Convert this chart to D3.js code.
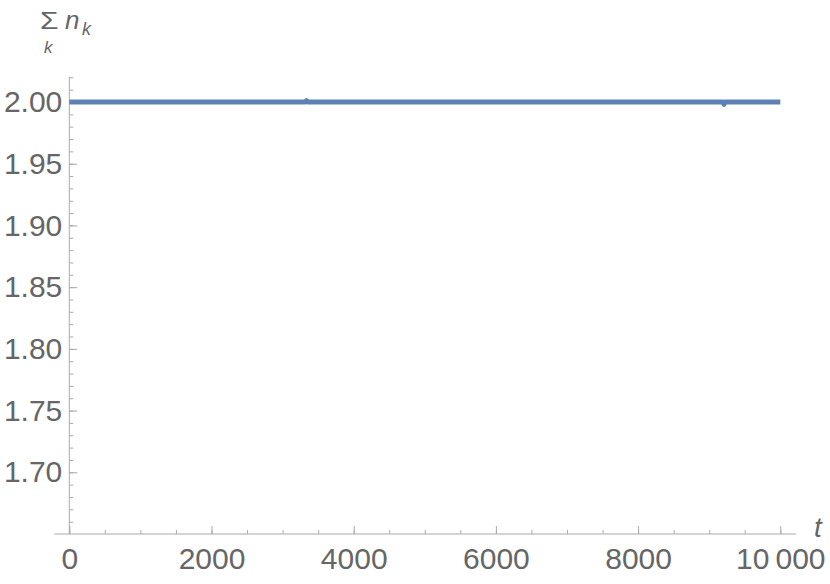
<!DOCTYPE html>
<html>
<head>
<meta charset="utf-8">
<script src="https://cdn.jsdelivr.net/npm/d3@7"></script>
<style>
  body { margin: 0; background: #fff; }
  svg { display: block; }
  text { font-family: "Liberation Sans", Arial, sans-serif; }
</style>
</head>
<body>
<svg id="chart" width="830" height="584"></svg>
<script>
// ---- data ----
const tValues = [0, 250, 500, 750, 1000, 1250, 1500, 1750, 2000, 2250, 2500, 2750, 3000, 3250,
  3320, 3336, 3352, 3500, 3750, 4000, 4250, 4500, 4750, 5000, 5250, 5500, 5750, 6000, 6250,
  6500, 6750, 7000, 7250, 7500, 7750, 8000, 8250, 8500, 8750, 9000, 9190, 9208, 9226, 9250,
  9500, 9750, 10000];
const nSumValues = [2.000, 2.000, 2.000, 2.000, 2.000, 2.000, 2.000, 2.000, 2.000, 2.000, 2.000,
  2.000, 2.000, 2.000, 2.000, 2.001, 2.000, 2.000, 2.000, 2.000, 2.000, 2.000, 2.000, 2.000,
  2.000, 2.000, 2.000, 2.000, 2.000, 2.000, 2.000, 2.000, 2.000, 2.000, 2.000, 2.000, 2.000,
  2.000, 2.000, 2.000, 2.000, 1.998, 2.000, 2.000, 2.000, 2.000, 2.000];
const xMajorTicks = [0, 2000, 4000, 6000, 8000, 10000];
const xTickLabels = ["0", "2000", "4000", "6000", "8000", "10\u2009000"];
const xMinorTicks = [0, 500, 1000, 1500, 2000, 2500, 3000, 3500, 4000, 4500, 5000, 5500, 6000,
  6500, 7000, 7500, 8000, 8500, 9000, 9500, 10000];
const yMajorTicks = [1.70, 1.75, 1.80, 1.85, 1.90, 1.95, 2.00];
const yTickLabels = ["1.70", "1.75", "1.80", "1.85", "1.90", "1.95", "2.00"];
const yMinorTicks = [1.66,1.67,1.68,1.69,1.70,1.71,1.72,1.73,1.74,1.75,1.76,1.77,1.78,1.79,1.80,
  1.81,1.82,1.83,1.84,1.85,1.86,1.87,1.88,1.89,1.90,1.91,1.92,1.93,1.94,1.95,1.96,1.97,1.98,1.99,2.00,2.01,2.02];

// ---- layout ----
const svg = d3.select("#chart");
const x = d3.scaleLinear().domain([0, 10000]).range([69.3, 780.3]);
const y = d3.scaleLinear().domain([1.65, 2.00]).range([534, 102]);
const axisColor = "#aaaaaa";
const labelColor = "#666666";

// axis lines
svg.append("line")
  .attr("x1", x(-211)).attr("x2", x(10218))
  .attr("y1", y(1.65)).attr("y2", y(1.65))
  .attr("stroke", axisColor).attr("stroke-width", 1);
svg.append("line")
  .attr("x1", x(0)).attr("x2", x(0))
  .attr("y1", y(1.65)).attr("y2", y(2.0205))
  .attr("stroke", axisColor).attr("stroke-width", 1);

// x axis ticks
const gx = svg.append("g").attr("transform", `translate(0,${y(1.65)})`);
gx.append("g").call(d3.axisBottom(x).tickValues(xMinorTicks).tickSizeInner(-4).tickSizeOuter(0).tickFormat(""));
gx.append("g").call(d3.axisBottom(x).tickValues(xMajorTicks).tickSizeInner(-8).tickSizeOuter(0).tickPadding(14)
  .tickFormat((d, i) => xTickLabels[i]));
gx.selectAll(".domain").remove();
gx.selectAll("line").attr("stroke", axisColor);
gx.selectAll("text").attr("fill", labelColor).attr("font-size", 30)
  .attr("font-family", "'Liberation Sans', Arial, sans-serif");

// y axis ticks
const gy = svg.append("g").attr("transform", `translate(${x(0)},0)`);
gy.append("g").call(d3.axisLeft(y).tickValues(yMinorTicks).tickSizeInner(-4).tickSizeOuter(0).tickFormat(""));
gy.append("g").call(d3.axisLeft(y).tickValues(yMajorTicks).tickSizeInner(-8).tickSizeOuter(0).tickPadding(7)
  .tickFormat((d, i) => yTickLabels[i]));
gy.selectAll(".domain").remove();
gy.selectAll("line").attr("stroke", axisColor);
gy.selectAll("text").attr("fill", labelColor).attr("font-size", 30)
  .attr("font-family", "'Liberation Sans', Arial, sans-serif");

// data line
const data = tValues.map((t, i) => ({ t, v: nSumValues[i] }));
svg.append("path")
  .datum(data)
  .attr("fill", "none")
  .attr("stroke", "#5E81B5")
  .attr("stroke-width", 5)
  .attr("stroke-linejoin", "round")
  .attr("d", d3.line().x(d => x(d.t)).y(d => y(d.v)));

// axis labels
svg.append("text").attr("x", 814).attr("y", 537)
  .attr("font-size", 28).attr("font-style", "italic").attr("fill", labelColor).text("t");

const yl = svg.append("g").attr("fill", labelColor);
yl.append("text").attr("transform", "translate(40,29) scale(1.3,1)").attr("font-size", 23).text("\u03A3");
yl.append("text").attr("x", 44).attr("y", 53).attr("font-size", 17).attr("font-style", "italic").text("k");
yl.append("text").attr("x", 65).attr("y", 29).attr("font-size", 26).attr("font-style", "italic").text("n");
yl.append("text").attr("x", 82).attr("y", 35).attr("font-size", 18).attr("font-style", "italic").text("k");
</script>
</body>
</html>
